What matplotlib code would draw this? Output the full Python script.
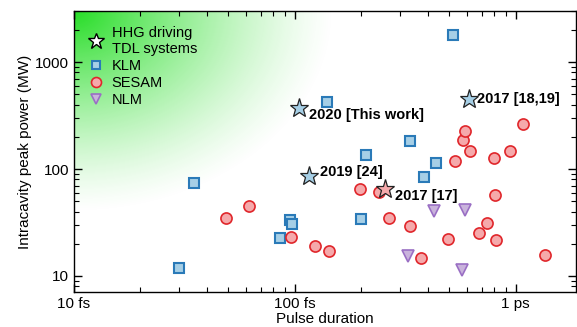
import numpy as np
import matplotlib
matplotlib.use("Agg")
import matplotlib.pyplot as plt
from matplotlib.lines import Line2D

plt.rcParams['font.family'] = ['Liberation Sans', 'DejaVu Sans']

# pulse duration (fs), peak power (MW)
klm_t = [30, 35, 86, 95, 97.6, 140, 200, 210, 332, 383, 435, 522]
klm_p = [11.9, 74, 22.5, 33.6, 30.6, 420, 34, 135, 184, 85, 115, 1790]

sesam_t = [49, 62, 96, 124, 143, 198, 240, 268, 331, 372, 494, 533, 576,
           588, 619, 682, 741, 793, 804, 812, 942, 1076, 1363]
sesam_p = [34.8, 45, 23.3, 19.0, 17.2, 65, 60.6, 34.8, 29.3, 14.6, 22.3, 120, 187,
           226, 148, 25.1, 31.5, 128, 56.8, 21.5, 147, 265, 15.7]

nlm_t = [324, 427, 571, 588]
nlm_p = [15.5, 40.7, 11.4, 41.4]

# HHG driving systems
hhg_t = [105, 613, 116, 256]
hhg_p = [370, 451, 86, 64.6]
hhg_lbl = ["2020 [This work]", "2017 [18,19]", "2019 [24]", "2017 [17]"]
hhg_kind = ["KLM", "KLM", "KLM", "SESAM"]
hhg_off = [(7, -5), (6, 0), (8, 3), (7, -5)]

xticks = [10, 100, 1000]
xticklabels = ["10 fs", "100 fs", "1 ps"]
yticks = [10, 100, 1000]
yticklabels = ["10", "100", "1000"]

face = {"KLM": "#a6cfe6", "SESAM": "#f5a9ab", "NLM": "#c9b3dc"}
edge = {"KLM": "#2a7ab8", "SESAM": "#e0262b", "NLM": "#9a6fc4"}

fig = plt.figure(figsize=(5.77, 3.27), dpi=100)
ax = fig.add_axes([0.128, 0.108, 0.87, 0.858])
ax.set_xscale('log')
ax.set_yscale('log')
ax.set_xlim(10, 1870)
ax.set_ylim(7.13, 3000)

# green glow in the top-left corner (row 0 = top of axes)
W, H = 400, 300
gx = np.linspace(0, 1, W)[None, :]
gy = np.linspace(0, 1, H)[:, None]
d = np.sqrt((gx / 0.52) ** 2 + (gy / 0.72) ** 2)
alpha = np.clip(1 - d, 0, 1) ** 1.3
img = np.zeros((H, W, 4))
img[..., 0] = 0.15
img[..., 1] = 0.87
img[..., 2] = 0.15
img[..., 3] = alpha
ax.imshow(img, extent=[0, 1, 0, 1], origin='upper', transform=ax.transAxes,
          aspect='auto', zorder=0, interpolation='bilinear')

ax.plot(klm_t, klm_p, 's', ms=7, mfc=face["KLM"], mec=edge["KLM"], mew=1.5,
        ls='none', label='KLM', zorder=3)
ax.plot(sesam_t, sesam_p, 'o', ms=8, mfc=face["SESAM"], mec=edge["SESAM"], mew=1.2,
        ls='none', label='SESAM', zorder=3)
ax.plot(nlm_t, nlm_p, 'v', ms=8, mfc=face["NLM"], mec=edge["NLM"], mew=1.2,
        ls='none', label='NLM', zorder=3)

for t, p, lbl, kind, off in zip(hhg_t, hhg_p, hhg_lbl, hhg_kind, hhg_off):
    ax.plot(t, p, '*', ms=14, mfc=face[kind], mec='#222222', mew=0.9, zorder=4)
    ax.annotate(lbl, (t, p), xytext=off, textcoords='offset points',
                ha='left', va='center', fontsize=10.5, fontweight='bold', zorder=5)

star_h = Line2D([], [], marker='*', ls='none', ms=13, mfc='white', mec='black', mew=1.0)
h, l = ax.get_legend_handles_labels()
ax.legend([star_h] + h, ["HHG driving\nTDL systems"] + l, loc='upper left',
          frameon=False, fontsize=10.5, handlelength=1.0, handletextpad=0.6,
          labelspacing=0.2, borderaxespad=0.6, borderpad=0.4, markerscale=0.9)

ax.set_xticks(xticks)
ax.set_xticklabels(xticklabels)
ax.set_yticks(yticks)
ax.set_yticklabels(yticklabels)
ax.tick_params(which='both', direction='in', top=True, right=True, labelsize=11)
ax.tick_params(which='major', length=6, width=1)
ax.tick_params(which='minor', length=3.5, width=0.8)
for s in ax.spines.values():
    s.set_linewidth(1.0)

ax.set_xlabel("Pulse duration", fontsize=11, labelpad=1)
ax.set_ylabel("Intracavity peak power (MW)", fontsize=11, labelpad=2)

fig.savefig("out.png", dpi=100)
